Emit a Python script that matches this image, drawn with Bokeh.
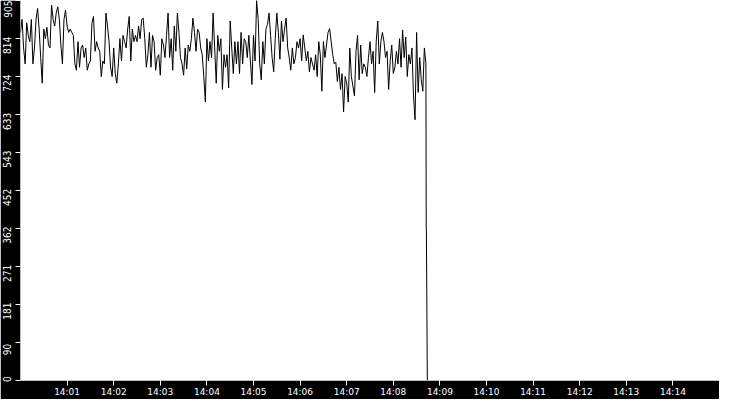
from datetime import datetime, timedelta
from bokeh.plotting import figure
from bokeh.models import Range1d, FixedTicker, DatetimeTickFormatter
from bokeh.embed import file_html
from bokeh.resources import INLINE

start = datetime(2024, 1, 1, 14, 0, 0)
step_s = 2
seg_1400 = [829, 860, 792, 754, 852, 822, 807, 860, 754, 792, 860, 886, 837, 769, 708,
            837, 814, 841, 799, 792, 894, 860, 844, 875, 890, 860, 799, 754, 860, 882,
            844, 829, 837, 829, 822, 754, 739, 807, 746, 792, 799, 769, 792, 739, 754]
seg_1401 = [761, 852, 867, 784, 807, 792, 784, 724, 761, 754, 875, 844, 807, 746, 724,
            792, 731, 708, 754, 814, 761, 822, 807, 792, 837, 867, 761, 837, 807, 822,
            807, 844, 814, 860, 863, 814, 746, 776, 829, 746, 822, 807, 739, 769]
seg_1403 = [776, 727, 814, 799, 769, 822, 875, 769, 814, 739, 844, 784, 875, 829, 769,
            754, 727, 792, 742, 799, 784, 814, 863, 829, 784, 837, 829, 792, 776, 724,
            663, 814, 761, 807, 769, 875, 792, 708, 822, 784, 814, 693, 776, 746]
seg_1404 = [776, 697, 856, 792, 731, 807, 754, 807, 731, 829, 754, 814, 807, 769, 822,
            761, 705, 822, 761, 905, 860, 754, 716, 807, 754, 837, 848, 875, 822, 769,
            735, 814, 875, 829, 765, 856, 807, 837, 863, 792, 769, 739, 792, 754]
seg_1405 = [769, 807, 792, 814, 761, 823, 792, 761, 784, 735, 769, 754, 739, 776, 724,
            807, 776, 689, 807, 769, 799, 829, 838, 807, 776, 754, 758, 712, 746, 693,
            731, 640, 724, 708, 663, 792, 724, 701, 678, 784, 822, 716, 799, 731]
seg_1407 = [754, 746, 724, 769, 807, 754, 784, 686, 807, 856, 754, 807, 829, 807, 769,
            784, 693, 761, 799, 731, 746, 784, 754, 814, 746, 835, 769, 818, 724, 776,
            754, 792, 678, 621, 829, 686, 769, 716, 689, 792, 754]
# final drop (seconds after 14:00:00)
tail_offsets_s = [522.4, 522.6, 523.8]
tail_values = [362, 362, 0]

y_ticks = [0, 90, 181, 271, 362, 452, 543, 633, 724, 814, 905]
x_tick_minutes = list(range(1, 15))

values = seg_1400 + seg_1401 + seg_1403 + seg_1404 + seg_1405 + seg_1407
times = [start + timedelta(seconds=step_s * i) for i in range(len(values))]
times += [start + timedelta(seconds=s) for s in tail_offsets_s]
values = values + tail_values

epoch = datetime(1970, 1, 1)
def ms(d):
    return (d - epoch).total_seconds() * 1000.0

p = figure(width=719, height=399, x_axis_type="datetime",
           x_range=Range1d(start, start + timedelta(minutes=15)),
           y_range=Range1d(0, 905),
           output_backend="svg", toolbar_location=None,
           min_border_left=15, min_border_bottom=16,
           min_border_top=0, min_border_right=0)
p.background_fill_color = "white"
p.border_fill_color = "black"
p.outline_line_color = None
p.xgrid.visible = False
p.ygrid.visible = False

p.line(times, values, line_color="black", line_width=1)

FONT = "DejaVu Sans"

xa = p.xaxis[0]
xa.ticker = FixedTicker(ticks=[ms(start + timedelta(minutes=m)) for m in x_tick_minutes])
xa.formatter = DatetimeTickFormatter(minutes="%H:%M", hourmin="%H:%M",
                                     minsec="%H:%M", hours="%H:%M", seconds="%H:%M")
xa.axis_line_color = None
xa.major_tick_line_color = "white"
xa.major_tick_in = 0
xa.major_tick_out = 5
xa.minor_tick_line_color = None
xa.major_label_text_color = "white"
xa.major_label_text_font = FONT
xa.major_label_text_font_size = "9px"
xa.major_label_standoff = 1

# y labels sit just below their tick (as in the original)
label_pos = [min(max(t - 16, 3), 889) for t in y_ticks]
ya = p.yaxis[0]
ya.ticker = FixedTicker(ticks=label_pos, minor_ticks=y_ticks)
ya.major_label_overrides = {lp: str(t) for lp, t in zip(label_pos, y_ticks)}
ya.axis_line_color = None
ya.major_tick_line_color = None
ya.major_tick_in = 0
ya.major_tick_out = 0
ya.minor_tick_line_color = "white"
ya.minor_tick_in = 0
ya.minor_tick_out = 5
ya.major_label_orientation = "vertical"
ya.major_label_text_color = "white"
ya.major_label_text_font = "DejaVu Sans Condensed"
ya.major_label_text_font_size = "10px"
ya.major_label_standoff = 4

open("out.html", "w").write(file_html(p, INLINE))
